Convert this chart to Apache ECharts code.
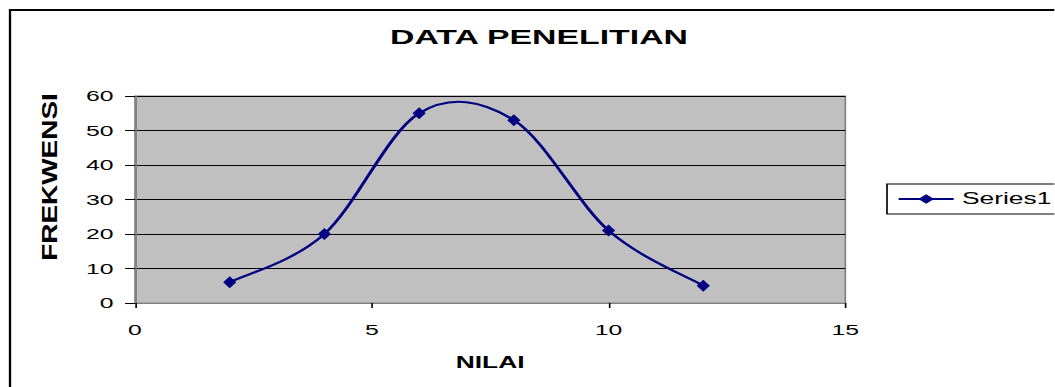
<!DOCTYPE html>
<html><head><meta charset="utf-8">
<script src="https://cdn.jsdelivr.net/npm/echarts@6/dist/echarts.min.js"></script>
<style>
html,body{margin:0;padding:0;background:#fff;overflow:hidden;}
#wrap{width:1055px;height:387px;overflow:hidden;position:relative;}
#c{width:639.4px;height:387px;transform:scaleX(1.65);transform-origin:0 0;}
</style>
</head><body><div id="wrap"><div id="c"></div></div>
<script>
const titleText = "DATA PENELITIAN";
const xName = "NILAI";
const yName = "FREKWENSI";
const seriesName = "Series1";
const nilai = [2, 4, 6, 8, 10, 12];
const frekwensi = [6, 20, 55, 53, 21, 5];
const xTicks = [0, 5, 10, 15];
const yTicks = [0, 10, 20, 30, 40, 50, 60];

const K = 1.65; // horizontal stretch of the original picture
const chart = echarts.init(document.getElementById('c'), null, {renderer: 'svg'});
const font = 'Arial, "Liberation Sans", sans-serif';
const navy = '#000080';

function pt(i) {
  const j = Math.max(0, Math.min(nilai.length - 1, i));
  return [nilai[j], frekwensi[j]];
}

chart.setOption({
  animation: false,
  backgroundColor: '#fff',
  title: {text: titleText, left: 390 / K, top: 27, padding: 0,
    textStyle: {fontFamily: font, fontSize: 20.5, fontWeight: 'bold', color: '#000'}},
  graphic: [
    {type: 'line', silent: true, shape: {x1: 9 / K, y1: 10, x2: 700, y2: 10},
      style: {stroke: '#000', lineWidth: 2}},
    {type: 'line', silent: true, shape: {x1: 10 / K, y1: 9, x2: 10 / K, y2: 400},
      style: {stroke: '#000', lineWidth: 1.4}},
    {type: 'text', silent: true, x: 49 / K, y: 177, rotation: Math.PI / 2,
      scaleX: 2.15, scaleY: 1,
      style: {text: yName, fontFamily: font, fontSize: 13, fontWeight: 'bold',
        fill: '#000', align: 'center', verticalAlign: 'middle'}}
  ],
  legend: {data: [{name: seriesName}], left: 887 / K, top: 184, orient: 'vertical',
    borderColor: '#000', borderWidth: 1, padding: [7, 30, 7, 10 / K],
    itemWidth: 55 / K, itemHeight: 12, itemGap: 0,
    lineStyle: {color: navy, width: 2, opacity: 1},
    itemStyle: {color: navy, opacity: 1},
    textStyle: {fontFamily: font, fontSize: 16, color: '#000', padding: [0, 0, 0, 0]}},
  grid: {left: 135 / K, right: 639.4 - 846 / K, top: 96, bottom: 84, show: true,
    backgroundColor: '#C0C0C0', borderColor: '#808080', borderWidth: 1},
  xAxis: {type: 'value', min: xTicks[0], max: xTicks[xTicks.length - 1], interval: xTicks[1] - xTicks[0],
    name: xName, nameLocation: 'middle', nameGap: 51,
    nameTextStyle: {fontFamily: font, fontSize: 16, fontWeight: 'bold', color: '#000'},
    axisLine: {lineStyle: {color: '#808080', width: 1}},
    axisTick: {show: true, length: 5, lineStyle: {color: '#000'}},
    axisLabel: {fontFamily: font, fontSize: 15, color: '#000', margin: 19},
    splitLine: {show: false}},
  yAxis: {type: 'value', min: yTicks[0], max: yTicks[yTicks.length - 1], interval: yTicks[1] - yTicks[0],
    axisLine: {show: true, lineStyle: {color: '#808080', width: 1}},
    axisTick: {show: true, length: 6, lineStyle: {color: '#000'}},
    axisLabel: {fontFamily: font, fontSize: 15, color: '#000', margin: 13},
    splitLine: {show: true, lineStyle: {color: '#000', width: 1}}},
  series: [
    {type: 'custom', silent: true, z: 2, clip: false,
      data: nilai.slice(0, -1).map((x, i) => [x, frekwensi[i]]),
      encode: {x: 0, y: 1},
      renderItem: function (params, api) {
        const i = params.dataIndex;
        const p0 = pt(i - 1), p1 = pt(i), p2 = pt(i + 1), p3 = pt(i + 2);
        const c1 = [p1[0] + (p2[0] - p0[0]) / 6, p1[1] + (p2[1] - p0[1]) / 6];
        const c2 = [p2[0] - (p3[0] - p1[0]) / 6, p2[1] - (p3[1] - p1[1]) / 6];
        const a = api.coord(p1), b = api.coord(p2), q1 = api.coord(c1), q2 = api.coord(c2);
        return {type: 'bezierCurve',
          shape: {x1: a[0], y1: a[1], x2: b[0], y2: b[1], cpx1: q1[0], cpy1: q1[1], cpx2: q2[0], cpy2: q2[1]},
          style: {stroke: navy, lineWidth: 2, fill: null}};
      }},
    {name: seriesName, type: 'line', z: 3,
      data: nilai.map((x, i) => [x, frekwensi[i]]),
      symbol: 'diamond', symbolSize: [8, 12],
      itemStyle: {color: navy},
      lineStyle: {color: navy, width: 0, opacity: 0}}
  ]
});
</script></body></html>
